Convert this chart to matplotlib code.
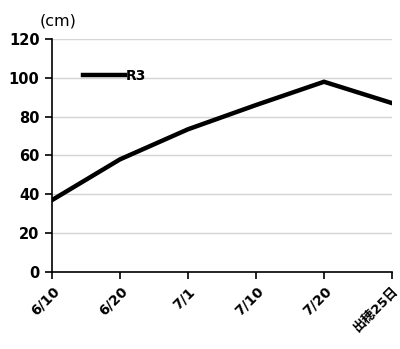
import matplotlib
matplotlib.use("Agg")
import matplotlib.pyplot as plt
import matplotlib.transforms as mtransforms

# 草丈の推移
dates = ["6/10", "6/20", "7/1", "7/10", "7/20", "出穂25日"]
heights_r3 = [37, 58, 73.5, 86, 98, 87]
yticks = [0, 20, 40, 60, 80, 100, 120]

plt.rcParams['font.family'] = ['DejaVu Sans', 'Noto Sans CJK JP']

fig = plt.figure(figsize=(4.0, 3.49), dpi=100)
ax = fig.add_axes([0.13, 0.221, 0.85, 0.667])

xs = list(range(len(dates)))
ax.plot(xs, heights_r3, color='black', linewidth=3.2, label='R3', solid_joinstyle='miter')

ax.set_xlim(0, len(dates) - 1)
ax.set_ylim(0, 120)
ax.set_yticks(yticks)
ax.set_xticks(xs)
ax.set_xticklabels(dates, rotation=45, ha='right', rotation_mode='anchor',
                   fontweight='bold', fontsize=10,
                   family=['DejaVu Sans', 'Noto Sans CJK JP'])
# 最後のラベルは右端からはみ出すので少し左下へずらす
last = ax.get_xticklabels()[-1]
last.set_fontsize(9.5)
last.set_transform(last.get_transform() +
                   mtransforms.ScaledTranslation(-7 / 72, -3 / 72, fig.dpi_scale_trans))
for lab in ax.get_yticklabels():
    lab.set_fontweight('bold')
    lab.set_fontsize(10.5)

ax.grid(axis='y', color='#d4d4d4', linewidth=1)
ax.set_axisbelow(True)
for s in ['top', 'right']:
    ax.spines[s].set_visible(False)
ax.spines['left'].set_linewidth(1.2)
ax.spines['bottom'].set_linewidth(1.2)
ax.tick_params(axis='both', direction='out', length=5, width=1.2, pad=4)

ax.text(-0.035, 1.045, '(cm)', transform=ax.transAxes, fontsize=11.5, ha='left', va='bottom')

leg = ax.legend(loc='center left', bbox_to_anchor=(0.075, 0.843), frameon=False,
                handlelength=3.0, borderaxespad=0, handletextpad=0.1,
                prop={'weight': 'bold', 'size': 10})

fig.savefig('out.png', dpi=100, facecolor='white')
